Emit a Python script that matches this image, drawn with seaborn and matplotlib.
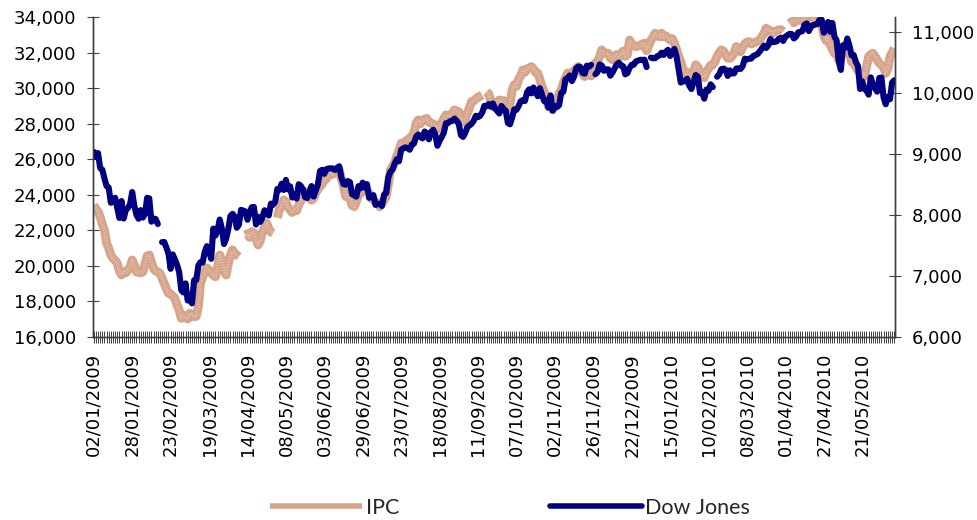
import numpy as np
import pandas as pd
import seaborn as sns
import matplotlib.pyplot as plt
from matplotlib.lines import Line2D

nan = np.nan

# trading days (weekdays) 02/01/2009 .. 11/06/2010
dates = pd.bdate_range('2009-01-02', '2010-06-11')

# IPC (left axis), one row per week
ipc = [
    23420,
    23200, 23050, 22760, 22350, 22000,
    21260, 21000, 20600, 20420, 20300,
    20140, 19700, 19480, 19660, 19600,
    19760, 19900, 20320, 20050, 19660,
    nan, 19600, 19660, 20100, 20550,
    20600, 20200, 19850, 19700, 19650,
    19570, 19300, 19010, 18700, 18450,
    18400, 18300, 18160, 17800, 17500,
    17040, 17200, 17100, 17000, 17320,
    17200, 17130, 17150, 17700, 19000,
    nan, 19700, 19870, 19760, 19600,
    19450, 19380, 19900, 20600, 20300,
    19700, 19480, 20100, 20600, 20890,
    20700, 20600, 20510, nan, nan,
    21730, 21800, 21600, 21920, 21850,
    21500, 21170, 21400, 21900, 22200,
    22390, 22100, 21900, 21830, nan,
    22700, 23200, 23330, 23700, 23600,
    23300, 23140, 23000, 23140, 23100,
    23400, 23700, 23800, 24000, 24170,
    23900, 23700, 23800, 24100, 24300,
    24460, 24600, 24830, 24900, 25100,
    25210, 25150, 25300, 25450, 25400,
    24900, 24500, 23900, 24000, 23800,
    23400, 23330, 23600, 24000, 24080,
    24460, 24300, 24270, 24080, 23800,
    23700, 23600, 23520, 23330, 23500,
    23700, 23890, 24600, 25400, 25580,
    25800, 26200, 26500, 26900, 26800,
    27000, 27090, 27200, 27300, 27470,
    28030, 28210, 28000, 28200, 28260,
    28300, 28100, 28030, 28000, 27900,
    27700, 27900, 28030, 28300, 28500,
    28400, 28500, 28600, 28780, 28700,
    28680, 28300, 28100, 28210, 28600,
    28900, 29250, 29300, 29400, 29500,
    29550, 29620, nan, 29810, 29700,
    29300, 28960, 29100, 29200, 29340,
    29200, 29300, 28780, 28800, 29100,
    29900, 30200, 30100, 30500, 30700,
    31030, 30900, 31100, 31150, 31220,
    31100, 30900, 30850, 30500, 30090,
    29800, 29500, 28960, 29100, 28780,
    nan, 29200, 29720, 29900, 30300,
    30600, 30850, 30700, 30900, 31000,
    nan, 31220, 31000, 30800, 30660,
    30900, 30850, 30700, 30900, 31410,
    31500, 31800, 32160, 32000, 31970,
    31970, 31700, 31600, 31800, 31900,
    31780, 31900, 32100, 31800, 31900,
    32720, 32500, 32400, 32350, nan,
    32400, 32500, 32540, 32120, nan,
    32700, 32900, 33100, 32950, 32910,
    33100, 32900, 32950, 32820, 32720,
    32800, 32540, 32200, 31800, 31500,
    31100, 30750, 30900, 30850, 30500,
    nan, 31320, 31200, 30900, 30750,
    30600, 30940, 31100, 31300, 31320,
    31500, 31800, 32000, 32160, 32100,
    31880, 31700, 31690, 31800, 32000,
    32350, 32200, 32060, 32300, 32500,
    32600, 32630, 32500, 32540, 32600,
    nan, 32700, 32910, 33100, 33380,
    33300, 33250, 33100, 33200, 33250,
    33290, 33300, 33200, nan, nan,
    33650, 33760, 33700, 33800, 33850,
    33850, 33800, 33850, 33800, 33600,
    33700, 33850, 33800, 33750, 33850,
    33600, 33000, 32700, 32900, 32450,
    32200, 31970, 32100, 31600, 31700,
    32350, 32200, 32300, 31970, 31500,
    31410, 31200, 31000, 30850, 30800,
    30660, 31200, 31780, 31900, 31970,
    31800, 31600, 31410, 31300, 31220,
    30850, 31100, 31780, 32000, 32260,
]

# Dow Jones (right axis), one row per week
dow = [
    9034.69,
    8952.89, 9015.10, 8769.70, 8742.46, 8599.18,
    8473.97, 8448.56, 8200.14, 8212.49, 8281.22,
    nan, 7949.09, 8228.10, 7939.93, 8077.56,
    8116.03, 8174.73, 8375.45, 8149.01, 8000.86,
    7936.75, 8078.36, 7956.66, 8014.07, 8280.59,
    8270.87, 7888.88, 7939.53, 7932.76, 7850.41,
    nan, 7552.60, 7555.63, 7465.95, 7365.67,
    7114.78, 7350.94, 7270.89, 7182.08, 7062.93,
    6763.29, 6726.02, 6875.84, 6594.44, 6626.94,
    6547.05, 6926.49, 6930.40, 7170.06, 7223.98,
    7216.97, 7395.70, 7486.58, 7400.80, 7278.38,
    7775.86, 7660.21, 7749.81, 7924.56, 7776.18,
    7522.02, 7608.92, 7761.60, 7978.08, 8017.59,
    7975.85, 7789.56, 7837.11, 8083.38, nan,
    8057.81, 7920.18, 8029.62, 8125.43, 8131.33,
    7841.73, 7969.56, 7886.57, 7957.06, 8076.29,
    8025.00, 7989.78, 8185.73, 8168.12, 8212.41,
    8426.74, 8410.65, 8512.28, 8409.85, 8574.65,
    8418.77, 8469.11, 8284.89, 8331.32, 8268.64,
    8504.08, 8474.85, 8422.04, 8292.13, 8277.32,
    nan, 8473.49, 8300.86, 8403.80, 8500.33,
    8721.44, 8740.87, 8675.24, 8750.24, 8763.13,
    8764.49, 8763.06, 8739.02, 8770.92, 8799.26,
    8612.13, 8504.67, 8497.18, 8555.60, 8539.73,
    8339.01, 8322.91, 8299.86, 8472.40, 8438.39,
    8529.38, 8447.00, 8504.06, 8280.74, nan,
    8324.87, 8163.60, 8178.41, 8183.17, 8146.52,
    8331.68, 8359.49, 8616.21, 8711.82, 8743.94,
    8848.15, 8915.94, 8881.26, 9069.29, 9093.24,
    9108.51, 9096.72, 9070.72, 9154.46, 9171.61,
    9286.56, 9320.19, 9280.97, 9256.26, 9370.07,
    9337.95, 9241.45, 9361.61, 9398.19, 9321.40,
    9135.34, 9217.94, 9279.16, 9350.05, 9505.96,
    9509.28, 9539.29, 9543.52, 9580.63, 9544.20,
    9496.28, 9310.60, 9280.67, 9344.61, 9441.27,
    nan, 9497.34, 9547.22, 9627.48, 9605.41,
    9626.80, 9683.41, 9791.71, 9783.92, 9820.20,
    9778.86, 9829.87, 9748.55, 9707.44, 9665.19,
    9789.36, 9742.20, 9712.28, 9509.28, 9487.67,
    9599.75, 9731.25, 9725.58, 9786.87, 9864.94,
    9885.80, 9871.06, 10015.86, 10062.94, 9995.91,
    10092.19, 10009.21, 9949.36, 10081.31, 9972.18,
    9867.96, 9882.17, 9762.69, 9962.58, 9712.73,
    9789.44, 9771.91, 9802.14, 10005.96, 10023.42,
    10226.94, 10246.97, 10291.26, 10197.47, 10270.47,
    10406.96, 10437.42, 10426.31, 10332.44, 10318.16,
    10450.95, 10433.71, 10464.40, nan, 10309.92,
    10344.84, 10471.58, 10452.68, 10366.15, 10388.90,
    10390.11, 10285.97, 10337.05, 10405.83, 10471.50,
    10501.05, 10452.00, 10441.12, 10308.26, 10328.89,
    10414.14, 10464.93, 10466.44, 10520.10, nan,
    10547.08, 10545.41, 10548.51, 10428.05, nan,
    10583.96, 10572.02, 10573.68, 10606.86, 10618.19,
    10663.99, 10627.26, 10680.77, 10710.55, 10609.65,
    nan, 10725.43, 10603.15, 10389.88, 10172.98,
    10196.86, 10194.29, 10236.16, 10120.46, 10067.33,
    10185.53, 10296.85, 10270.55, 10002.18, 10012.23,
    9908.39, 10058.64, 10038.38, 10144.19, 10099.14,
    nan, 10268.81, 10309.24, 10392.90, 10402.35,
    10383.38, 10282.41, 10374.16, 10321.03, 10325.26,
    10403.79, 10405.98, 10396.76, 10444.14, 10566.20,
    10552.52, 10564.38, 10567.65, 10611.84, 10624.69,
    10642.15, 10685.98, 10733.67, 10779.17, 10741.98,
    10785.89, 10888.83, 10836.15, 10841.21, 10850.36,
    10895.86, 10907.42, 10856.63, 10927.07, nan,
    10973.55, 10969.99, 10897.52, 10927.07, 10997.35,
    11005.97, 11019.42, 11123.11, 11144.57, 11018.66,
    11092.05, 11117.06, 11124.92, 11134.29, 11204.28,
    11205.03, 10991.99, 11045.27, 11167.32, 11008.61,
    11151.83, 10926.77, 10868.12, 10520.32, 10380.43,
    10785.14, 10748.26, 10896.91, 10782.95, 10620.16,
    10625.83, 10510.95, 10444.37, 10068.01, 10193.39,
    10066.57, 10043.75, 9974.45, 10258.99, 10136.63,
    nan, 10024.02, 10249.54, 10255.28, 9931.97,
    9816.49, 9939.98, 9899.25, 10172.53, 10211.07,
]

# dias sin dato en los que la linea se corta (en los demas se une)
ipc_cortes = ['2009-04-09', '2009-05-01', '2009-09-16', '2010-04-01']
dow_cortes = ['2009-02-16', '2009-11-26', '2010-01-01', '2010-02-15']

tick_labels = ['02/01/2009', '28/01/2009', '23/02/2009', '19/03/2009', '14/04/2009',
               '08/05/2009', '03/06/2009', '29/06/2009', '23/07/2009', '18/08/2009',
               '11/09/2009', '07/10/2009', '02/11/2009', '26/11/2009', '22/12/2009',
               '15/01/2010', '10/02/2010', '08/03/2010', '01/04/2010', '27/04/2010',
               '21/05/2010']

df = pd.DataFrame({'fecha': dates, 'IPC': ipc, 'Dow Jones': dow})
df['pos'] = np.arange(len(df))
df['tramo_ipc'] = df['fecha'].isin(pd.to_datetime(ipc_cortes)).cumsum()
df['tramo_dow'] = df['fecha'].isin(pd.to_datetime(dow_cortes)).cumsum()

sns.set_style('white')
plt.rcParams['font.family'] = ['DejaVu Sans']

ipc_color = '#D6A48B'
ipc_light = '#E3BCA8'
dow_color = '#000080'
axis_color = '#404040'

fig = plt.figure(figsize=(9.78, 5.2), dpi=100)
ax = fig.add_axes([92.7 / 978, 1 - 336.7 / 520, (895.3 - 92.7) / 978, (336.7 - 17.3) / 520])
ax2 = ax.twinx()

ipc_df = df.dropna(subset=['IPC'])
dow_df = df.dropna(subset=['Dow Jones'])
sns.lineplot(data=ipc_df, x='pos', y='IPC', units='tramo_ipc', ax=ax, color=ipc_color,
             linewidth=6.4, estimator=None, sort=False, legend=False,
             solid_capstyle='butt')
# textura fina del IPC
sns.lineplot(data=ipc_df, x='pos', y='IPC', units='tramo_ipc', ax=ax, color=ipc_light,
             linewidth=2.4, estimator=None, sort=False, legend=False,
             linestyle=(0, (0.4, 0.4)), alpha=0.85)
sns.lineplot(data=dow_df, x='pos', y='Dow Jones', units='tramo_dow', ax=ax2,
             color=dow_color, linewidth=4.4, estimator=None, sort=False, legend=False,
             solid_capstyle='round', solid_joinstyle='round')

n = len(df)
ax.set_xlim(-0.5, n - 0.5)
ax.set_ylim(16000, 34000)
ax2.set_ylim(6000, 11245)
ax.set_yticks(np.arange(16000, 34001, 2000))
ax2.set_yticks(np.arange(6000, 11001, 1000))
ax.yaxis.set_major_formatter(plt.FuncFormatter(lambda v, p: f'{v:,.0f}'))
ax2.yaxis.set_major_formatter(plt.FuncFormatter(lambda v, p: f'{v:,.0f}'))

ax.set_xticks(np.arange(0, n, 18))
ax.set_xticklabels(tick_labels, rotation=90)
ax.set_xticks(np.arange(n), minor=True)

ax.set_xlabel('')
ax.set_ylabel('')
ax2.set_ylabel('')

for a in (ax, ax2):
    for side in ('left', 'right', 'bottom'):
        a.spines[side].set_visible(True)
        a.spines[side].set_color(axis_color)
        a.spines[side].set_linewidth(1.0)
    a.spines['top'].set_visible(False)
    a.grid(False)

ax.tick_params(axis='x', which='both', bottom=True, direction='inout', length=8.6,
               width=0.7, color=axis_color, pad=7.4, labelsize=13, labelcolor='black')
ax.tick_params(axis='y', direction='inout', length=8.6, width=0.8, color=axis_color,
               pad=7.7, labelsize=13, left=True, labelcolor='black')
ax2.tick_params(axis='y', direction='inout', length=8.6, width=0.8, color=axis_color,
                pad=7.5, labelsize=13, right=True, labelcolor='black')

handles = [Line2D([], [], color=ipc_color, linewidth=4, solid_capstyle='butt'),
           Line2D([], [], color=dow_color, linewidth=4, solid_capstyle='round')]
fig.legend(handles, ['IPC', 'Dow Jones'], loc='center', ncol=2,
           bbox_to_anchor=(510 / 978, 1 - 508 / 520), frameon=False,
           handlelength=4.3, handletextpad=0.15, columnspacing=7.0,
           prop={'family': ['Lato', 'DejaVu Sans'], 'size': 15.5})

fig.savefig('out.png', dpi=100)
